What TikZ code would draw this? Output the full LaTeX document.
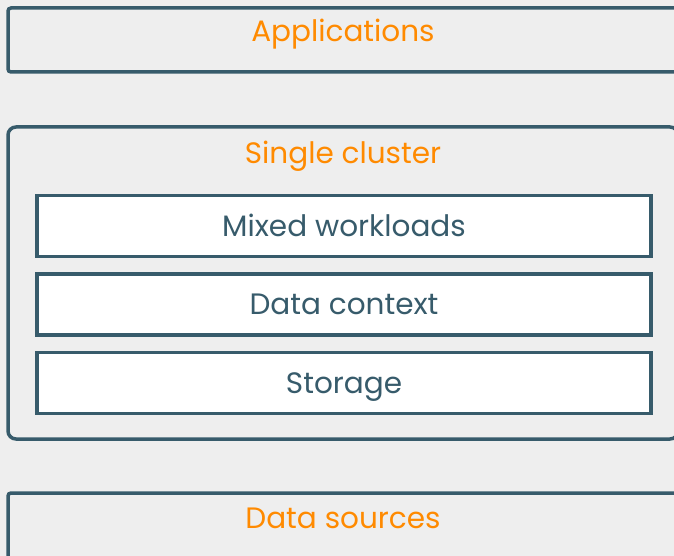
\documentclass[tikz,border=0pt]{standalone}
\usepackage{fontspec}
\setmainfont{Poppins}
\usepackage{tikz}
\usetikzlibrary{positioning}

\definecolor{frame}{HTML}{375B6B}
\definecolor{title}{HTML}{FF8A00}
\definecolor{back}{HTML}{EEEEEE}

\tikzset{
  layer/.style={draw=frame, line width=3.5pt, fill=white, minimum width=614pt, minimum height=61pt, inner sep=0pt, outer sep=0pt, text height=20pt, text depth=0pt, text=frame, font=\fontsize{29.5}{34}\selectfont},
  outer/.style={draw=frame, line width=3.5pt, fill=back, minimum width=670pt, inner sep=0pt, outer sep=0pt},
  heading/.style={text=title, font=\fontsize{29.5}{34}\selectfont, inner sep=0pt, anchor=base}
}

\begin{document}
\begin{tikzpicture}[x=1pt, y=-1pt, node distance=17.5pt]
  \useasboundingbox (0,0) rectangle (674,556);
  \fill[back] (0,0) rectangle (674,556);
  \clip (0,0) rectangle (674,556);

  % outer boxes
  \node[outer, rounded corners=3pt, minimum height=64pt] (apps) at (343,40) {};
  \node[outer, rounded corners=8pt, minimum height=312pt] (cluster) at (343,283) {};
  \node[outer, rounded corners=3pt, minimum height=80pt] (sources) at (343,533) {};

  % titles
  \node[heading] (appstitle) at ([yshift=-34pt]apps.north) {Applications};
  \node[heading] (clustertitle) at ([yshift=-37pt]cluster.north) {Single cluster};
  \node[heading] (sourcestitle) at ([yshift=-35pt]sources.north) {Data sources};

  % layers of the cluster
  \node[layer] (workloads) at (344,226) {Mixed workloads};
  \node[layer, below=of workloads] (context) {Data context};
  \node[layer, below=of context] (storage) {Storage};
\end{tikzpicture}
\end{document}
